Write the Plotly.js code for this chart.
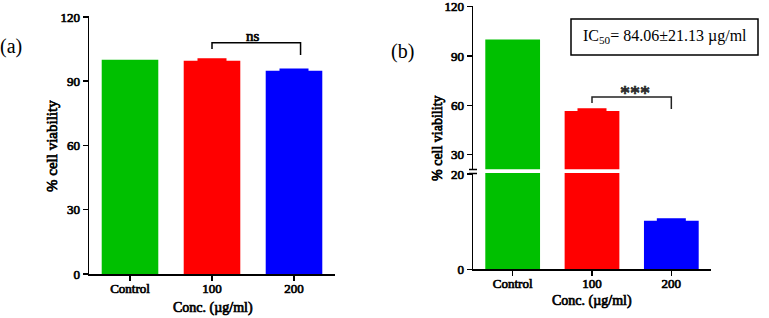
<!DOCTYPE html>
<html>
<head>
<meta charset="utf-8">
<script src="https://cdn.plot.ly/plotly-3.0.1.min.js"></script>
<style>
html,body{margin:0;padding:0;background:#fff;}
#chart{width:769px;height:318px;}
/* emulate bold serif (bold face of the serif family is not available) */
#chart .xtick text, #chart .x2tick text, #chart .ytick text, #chart .y2tick text, #chart .y3tick text,
#chart g.annotation.boldtxt text { stroke:#000; stroke-width:0.7px; paint-order:stroke; }
</style>
</head>
<body>
<div id="chart"></div>
<script>
// ---- data ----
const categories = ['Control', '100', '200'];
const viabilityA = [100, 99.6, 94.9];
const errorA = [0, 0.7, 0.6];
const viabilityB = [100, 56.5, 10.2];
const errorB = [0, 1.0, 0.3];
const yTicksA = [0, 30, 60, 90, 120];
const yTicksBUpper = [30, 60, 90, 120];
const yTicksBLower = [0, 20];
const xTitle = 'Conc. (µg/ml)';
const yTitle = '% cell viability';
const ic50Text = 'IC<sub>50</sub>= 84.06±21.13 µg/ml';

// ---- style ----
const barColors = ['#00c000', '#ff0000', '#0000ff'];
const W = 769, H = 318;
const px = v => v / W;
const py = v => 1 - v / H;
const serif = 'Liberation Serif';

const traces = [];
function addBars(vals, xa, ya) {
  traces.push({
    type: 'bar', x: categories, y: vals, xaxis: xa, yaxis: ya,
    marker: {color: barColors, line: {width: 0}}, width: 0.69,
    hoverinfo: 'skip', showlegend: false
  });
}
addBars(viabilityA, 'x', 'y');
addBars(viabilityB, 'x2', 'y2');
addBars(viabilityB, 'x2', 'y3');
categories.forEach((c, i) => {
  [[viabilityA, errorA, 'x', 'y'], [viabilityB, errorB, 'x2', i === 2 ? 'y3' : 'y2']].forEach(s => {
    if (s[1][i] > 0) {
      traces.push({type: 'scatter', mode: 'markers', x: [c], y: [s[0][i]], xaxis: s[2], yaxis: s[3],
        marker: {size: 1, color: barColors[i], opacity: 0},
        error_y: {type: 'data', array: [s[1][i]], arrayminus: [0], symmetric: false,
                  color: barColors[i], thickness: 2, width: 14.5},
        hoverinfo: 'skip', showlegend: false});
    }
  });
});

const axisCommon = {
  showline: true, linecolor: '#000', linewidth: 1.5, ticks: 'outside', ticklen: 5,
  tickwidth: 1.5, tickcolor: '#000', showgrid: false, zeroline: false, fixedrange: true,
  ticklabeloverflow: 'allow',
  tickfont: {family: serif, size: 13, color: '#000'}
};
const yTick = vals => ({tickmode: 'array', tickvals: vals, ticktext: vals.map(String)});
const xTick = {tickmode: 'array', tickvals: categories, ticktext: categories, ticklabelstandoff: -3};

const layout = {
  width: W, height: H, margin: {l: 0, r: 0, t: 0, b: 0},
  paper_bgcolor: '#fff', plot_bgcolor: 'rgba(0,0,0,0)',
  barmode: 'overlay', showlegend: false,
  font: {family: serif},
  xaxis: Object.assign({}, axisCommon, xTick, {domain: [px(89), px(335)], range: [-0.5, 2.5], anchor: 'y', type: 'category'}),
  yaxis: Object.assign({}, axisCommon, yTick(yTicksA), {domain: [py(274), py(15.9)], range: [0, 120.5], anchor: 'x'}),
  xaxis2: Object.assign({}, axisCommon, xTick, {domain: [px(473), px(711)], range: [-0.5, 2.5], anchor: 'y3', type: 'category'}),
  yaxis2: Object.assign({}, axisCommon, yTick(yTicksBUpper), {domain: [py(169.3), py(5.9)], range: [21, 120.5], anchor: 'x2'}),
  yaxis3: Object.assign({}, axisCommon, yTick(yTicksBLower), {domain: [py(269.3), py(173)], range: [0, 20.2], anchor: 'x2'}),
  shapes: [
    {type: 'path', xref: 'x', yref: 'y', path: 'M 1,105.1 L 1,108 L 2.08,108 L 2.08,102.3',
     line: {color: '#000', width: 1.5}},
    {type: 'path', xref: 'x2', yref: 'y2', path: 'M 1,61.4 L 1,65 L 2,65 L 2,57.7',
     line: {color: '#222', width: 1.5}},
    {type: 'line', xref: 'paper', yref: 'paper', x0: px(469), x1: px(477), y0: py(169.5), y1: py(169.5), line: {color: '#000', width: 1.5}},
    {type: 'line', xref: 'paper', yref: 'paper', x0: px(469), x1: px(477), y0: py(173.5), y1: py(173.5), line: {color: '#000', width: 1.5}},
    {type: 'rect', xref: 'paper', yref: 'paper', x0: px(571), x1: px(758), y0: py(55), y1: py(19),
     line: {color: '#000', width: 1.5}, fillcolor: 'rgba(0,0,0,0)'}
  ],
  annotations: [
    {xref: 'paper', yref: 'paper', x: px(11), y: py(47), text: '(a)', showarrow: false,
     font: {family: serif, size: 20, color: '#000'}, xanchor: 'center', yanchor: 'middle'},
    {xref: 'paper', yref: 'paper', x: px(402), y: py(52), text: '(b)', showarrow: false,
     font: {family: serif, size: 20, color: '#000'}, xanchor: 'center', yanchor: 'middle'},
    {xref: 'paper', yref: 'paper', x: px(52), y: py(146), text: yTitle, textangle: -90, showarrow: false,
     font: {family: serif, size: 15, color: '#000'}, xanchor: 'center', yanchor: 'middle', bold: true},
    {xref: 'paper', yref: 'paper', x: px(437), y: py(138), text: yTitle, textangle: -90, showarrow: false,
     font: {family: serif, size: 14, color: '#000'}, xanchor: 'center', yanchor: 'middle', bold: true},
    {xref: 'paper', yref: 'paper', x: px(213), y: py(308), text: xTitle, showarrow: false,
     font: {family: serif, size: 14, color: '#000'}, xanchor: 'center', yanchor: 'middle', bold: true},
    {xref: 'paper', yref: 'paper', x: px(592), y: py(301), text: xTitle, showarrow: false,
     font: {family: serif, size: 14, color: '#000'}, xanchor: 'center', yanchor: 'middle', bold: true},
    {xref: 'x', yref: 'y', x: 1.5, y: 111, text: 'ns', showarrow: false,
     font: {family: serif, size: 15, color: '#000'}, xanchor: 'center', yanchor: 'middle', bold: true},
    {xref: 'x2', yref: 'y2', x: 1.54, y: 67.5, text: '***', showarrow: false,
     font: {family: serif, size: 20, color: '#333'}, xanchor: 'center', yanchor: 'middle', bold: true},
    {xref: 'paper', yref: 'paper', x: px(664.5), y: py(37), text: ic50Text, showarrow: false,
     font: {family: serif, size: 16, color: '#000'}, xanchor: 'center', yanchor: 'middle'}
  ]
};
const boldIdx = layout.annotations.map((a, i) => a.bold ? i : -1).filter(i => i >= 0);
layout.annotations.forEach(a => delete a.bold);

Plotly.newPlot('chart', traces, layout, {displayModeBar: false, staticPlot: true}).then(gd => {
  document.querySelectorAll('#chart g.annotation').forEach(g => {
    const idx = +g.getAttribute('data-index');
    if (boldIdx.includes(idx)) g.classList.add('boldtxt');
  });
});
</script>
</body>
</html>
